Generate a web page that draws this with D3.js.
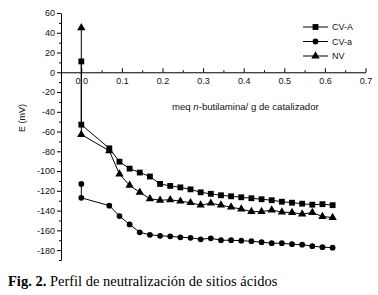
<!DOCTYPE html>
<html>
<head>
<meta charset="utf-8">
<script src="https://cdn.jsdelivr.net/npm/d3@7"></script>
<style>
  body { margin: 0; background: #fff; }
  svg text { font-family: "Liberation Sans", Arial, sans-serif; fill: #111; }
  svg text.caption { font-family: "Liberation Serif", "Times New Roman", serif; fill: #000; }
</style>
</head>
<body>
<div id="main"></div>
<script>
// meq n-butilamina / g (first two points sit on x = 0)
var xValues = [0, 0, 0.069, 0.094, 0.119, 0.144, 0.169, 0.194, 0.219, 0.244, 0.269, 0.294,
  0.319, 0.344, 0.369, 0.394, 0.419, 0.444, 0.469, 0.494, 0.519, 0.544, 0.569, 0.594, 0.619];

var cvA = [11, -53, -77, -90.5, -97.5, -101.5, -105.5, -113, -115, -116.5, -118.5, -121.5,
  -123, -124.5, -125.5, -126.5, -127.5, -128.5, -129.5, -131, -132, -133, -134, -133.5, -134.5];

var cvLow = [-113, -127, -135, -145.5, -154, -162, -164.5, -165.5, -166, -167, -167.5, -169,
  -168, -170, -170, -170.5, -171, -172, -173, -173, -174, -174.5, -176, -177, -177.5];

var nv = [45, -63, -79.5, -103, -114.5, -121.5, -128, -129.5, -129, -130.5, -132, -134.5,
  -132.5, -134.5, -136.5, -138.5, -141, -141, -139.5, -141.5, -142, -143.5, -142, -146, -147];

var seriesNames = ["CV-A", "CV-a", "NV"];
var xTicks = [0, 0.1, 0.2, 0.3, 0.4, 0.5, 0.6, 0.7];
var xMinor = [-0.05, 0.05, 0.15, 0.25, 0.35, 0.45, 0.55, 0.65];
var yTicks = [-180, -160, -140, -120, -100, -80, -60, -40, -20, 0, 20, 40, 60];
var yMinor = [-190, -170, -150, -130, -110, -90, -70, -50, -30, -10, 10, 30, 50];

var width = 378, height = 295;

var svg = d3.select("#main").append("svg")
    .attr("width", width)
    .attr("height", height);

var x = d3.scaleLinear().domain([-0.05, 0.7]).range([61, 365.5]);
var y = d3.scaleLinear().domain([-190, 60]).range([260, 13]);

// y axis
var yAxis = d3.axisLeft(y).tickValues(yTicks).tickSize(4).tickSizeOuter(0).tickPadding(2)
    .tickFormat(function(d){ return String(d); });
svg.append("g")
    .attr("transform", "translate(" + x(-0.05) + ",0)")
    .call(yAxis)
    .call(function(g){ g.selectAll("text").style("font-size", "9px").attr("fill", "#111"); });
svg.append("g")
    .attr("transform", "translate(" + x(-0.05) + ",0)")
    .call(d3.axisLeft(y).tickValues(yMinor).tickSize(2).tickSizeOuter(0).tickFormat(""))
    .call(function(g){ g.select(".domain").remove(); });

// x axis at E = 0, ticks pointing up
var xAxis = d3.axisBottom(x).tickValues(xTicks).tickSizeInner(-4).tickSizeOuter(0).tickPadding(5)
    .tickFormat(d3.format(".1f"));
svg.append("g")
    .attr("transform", "translate(0," + y(0) + ")")
    .call(xAxis)
    .call(function(g){ g.selectAll("text").style("font-size", "9px").attr("fill", "#111"); });
svg.append("g")
    .attr("transform", "translate(0," + y(0) + ")")
    .call(d3.axisBottom(x).tickValues(xMinor).tickSizeInner(-2).tickSizeOuter(0).tickFormat(""))
    .call(function(g){ g.select(".domain").remove(); });

svg.selectAll(".domain, .tick line").attr("stroke", "#000");

// axis titles
var xt = svg.append("text")
    .attr("x", 172).attr("y", 110)
    .style("font-size", "9.6px");
xt.append("tspan").text("meq ");
xt.append("tspan").style("font-style", "italic").text("n");
xt.append("tspan").text("-butilamina/ g de catalizador");

svg.append("text")
    .attr("transform", "translate(25,118) rotate(-90)")
    .attr("text-anchor", "middle")
    .style("font-size", "9px")
    .text("E (mV)");

// series
var data = [
  {name: seriesNames[0], values: cvA, symbol: d3.symbolSquare, size: 34},
  {name: seriesNames[1], values: cvLow, symbol: d3.symbolCircle, size: 26},
  {name: seriesNames[2], values: nv, symbol: d3.symbolTriangle, size: 30}
];

var line = d3.line()
    .x(function(d){ return x(d.x); })
    .y(function(d){ return y(d.y); });

data.forEach(function(s){
  var pts = s.values.map(function(v, i){ return {x: xValues[i], y: v}; });
  svg.append("path")
      .datum(pts)
      .attr("d", line)
      .attr("fill", "none")
      .attr("stroke", "#000")
      .attr("stroke-width", 1);
  svg.append("g").selectAll("path")
      .data(pts)
      .enter().append("path")
        .attr("transform", function(d){ return "translate(" + x(d.x) + "," + y(d.y) + ")"; })
        .attr("d", d3.symbol().type(s.symbol).size(s.size))
        .attr("fill", "#000");
});

// legend
var legend = svg.append("g").selectAll("g")
    .data(data)
    .enter().append("g")
      .attr("transform", function(d, i){ return "translate(303," + (27 + i * 14.5) + ")"; });
legend.append("line")
    .attr("x1", 0).attr("x2", 25)
    .attr("stroke", "#000");
legend.append("path")
    .attr("transform", "translate(12.5,0)")
    .attr("d", function(d){ return d3.symbol().type(d.symbol).size(d.size)(); })
    .attr("fill", "#000");
legend.append("text")
    .attr("x", 29).attr("dy", "0.35em")
    .style("font-size", "9px")
    .text(function(d){ return d.name; });

// caption
var cap = svg.append("text")
    .attr("class", "caption")
    .attr("x", 8).attr("y", 286)
    .style("font-size", "14.5px");
cap.append("tspan").style("font-weight", "bold").text("Fig. 2.");
cap.append("tspan").text(" Perfil de neutralización de sitios ácidos");
</script>
</body>
</html>
